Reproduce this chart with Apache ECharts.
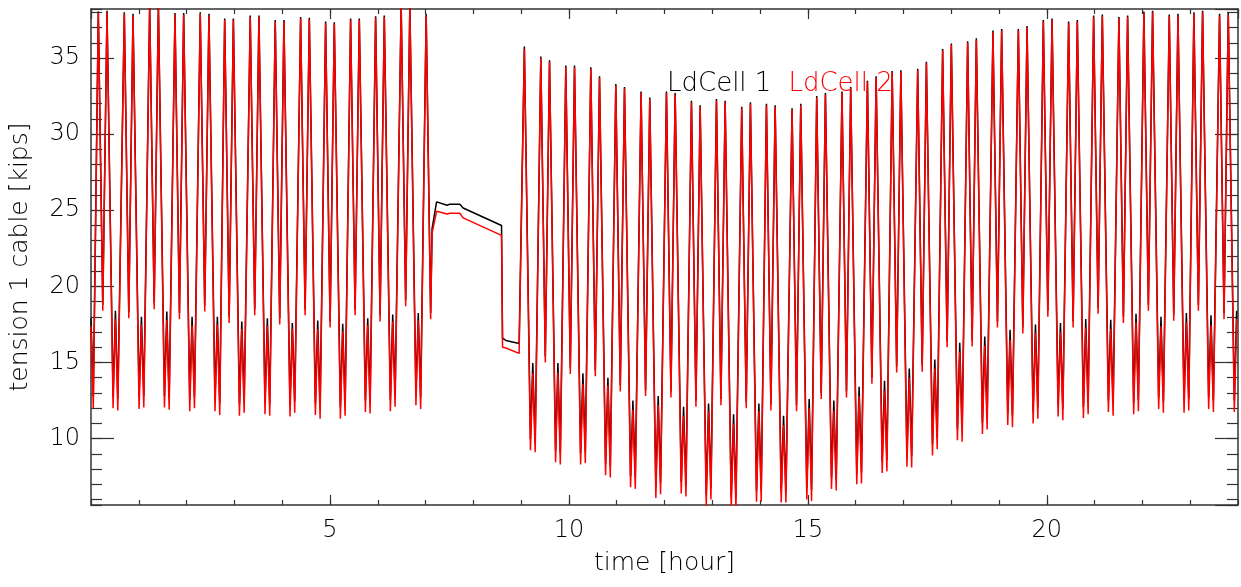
<!DOCTYPE html>
<html>
<head>
<meta charset="utf-8">
<script src="https://cdn.jsdelivr.net/npm/echarts@6/dist/echarts.min.js"></script>
<style>
html,body{margin:0;padding:0;background:#fff;}
#chart{width:1241px;height:587px;}
</style>
</head>
<body>
<div id="chart"></div>
<script>
// ---- data ----
const seriesNames = ['LdCell 1', 'LdCell 2'];
// cycle = peak1, dip, peak2, trough1, bump, trough2 ; time of peak1 (hours)
const cycleStart = [0.153, 0.697, 1.228, 1.757, 2.286, 2.797, 3.332, 3.855, 4.386, 4.909, 5.432, 5.955, 6.490, 7.013,
  8.886, 9.412, 9.935, 10.458, 10.981, 11.510, 12.041, 12.564, 13.087, 13.616, 14.133, 14.669, 15.185, 15.714,
  16.246, 16.764, 17.298, 17.820, 18.343, 18.873, 19.404, 19.927, 20.456, 20.979, 21.508, 22.031, 22.562, 23.077, 23.614];
// offsets (hours after peak1) of peak1, dip, peak2, trough1, bump, trough2
const cycleOffset = [0, 0.094, 0.182, 0.309, 0.358, 0.408];

// LdCell 1 (black)
const peak1Black = [38.05, 38.0, 38.5, 37.96, 38.0, 37.6, 37.8, 37.5, 37.7, 37.4, 37.6, 37.75, 38.5, 37.9,
  null, 35.1, 34.5, 34.4, 33.3, 32.8, 32.8, 32.2, 32.3, 31.8, 32.0, 31.7, 32.5, 32.8, 33.5, 34.15, 34.3, 35.6, 36.1, 36.8, 36.9, 37.5, 37.4, 37.8, 37.7, 38.05, 37.85, 38.0, 37.9];
const dipBlack = [18.8, 18.3, 18.9, 18.25, 18.75, 18.0, 18.5, 17.9, 18.5, 17.7, 18.5, 18.1, 19.1, 18.25,
  null, 15.4, 14.65, 14.5, 13.5, 13.2, 13.1, 12.5, 12.6, 12.4, 12.25, 12.2, 13.0, 13.1, 14.0, 14.75, 14.8, 16.4, 16.45, 17.7, 17.3, 18.4, 17.7, 18.6, 18.0, 18.8, 18.15, 18.8, 18.25];
const peak2Black = [38.1, 37.9, 38.5, 37.96, 37.9, 37.6, 37.8, 37.5, 37.65, 37.35, 37.6, 37.8, 38.5, null,
  35.75, 34.85, 34.5, 33.8, 33.1, 32.4, 32.7, 31.9, 32.2, 32.1, 31.9, 32.0, 32.7, 33.1, 33.8, 34.2, 34.75, 35.95, 36.3, 36.9, 37.1, 37.6, 37.5, 37.85, 37.8, 38.1, 37.9, 38.1, 37.95];
const trough1Black = [12.75, 12.7, 12.8, 12.55, 12.55, 12.25, 12.35, 12.2, 12.3, 12.05, 12.5, 12.55, 12.95, null,
  9.98, 9.2, 9.05, 8.35, 7.55, 6.85, 7.15, 6.3, 6.15, 6.6, 6.55, 6.75, 7.45, 7.75, 8.5, 8.9, 9.65, 10.65, 11.05, 11.65, 11.75, 12.2, 12.1, 12.5, 12.35, 12.7, 12.45, 12.7, 12.5];
const bumpBlack = [18.4, 18.0, 18.35, 18.0, 18.0, 17.7, 17.9, 17.6, 17.75, 17.55, 17.9, 18.15, 18.25, null,
  14.97, 14.97, 14.3, 14.0, 12.5, 12.8, 12.1, 12.3, 11.6, 12.3, 11.5, 12.6, 12.5, 13.4, 13.8, 14.6, 15.2, 16.3, 16.7, 17.15, 17.5, 17.6, 17.85, 17.8, 18.2, 18.0, 18.25, 18.1, 18.4];
const trough2Black = [12.6, 12.8, 12.65, 12.75, 12.3, 12.45, 12.25, 12.45, 12.05, 12.25, 12.4, 12.85, 12.7, null,
  9.85, 9.05, 9.15, 8.2, 7.45, 7.1, 6.95, 6.75, 6.15, 6.6, 6.55, 6.65, 7.35, 7.8, 8.6, 8.85, 10.05, 10.55, 11.35, 11.5, 12.05, 11.95, 12.35, 12.25, 12.55, 12.45, 12.6, 12.5, null];

// LdCell 2 (red)
const peak1Red = [37.95, 37.9, 38.4, 37.86, 37.9, 37.5, 37.7, 37.4, 37.6, 37.3, 37.5, 37.65, 38.4, 37.8,
  null, 35.0, 34.4, 34.3, 33.2, 32.7, 32.7, 32.1, 32.2, 31.7, 31.9, 31.6, 32.4, 32.7, 33.4, 34.05, 34.2, 35.5, 36.0, 36.7, 36.8, 37.4, 37.3, 37.7, 37.6, 37.95, 37.75, 37.9, 37.8];
const dipRed = [18.4, 17.9, 18.5, 17.85, 18.35, 17.6, 18.1, 17.5, 18.1, 17.3, 18.1, 17.7, 18.7, 17.85,
  null, 15.0, 14.25, 14.1, 13.1, 12.8, 12.7, 12.1, 12.2, 12.0, 11.85, 11.8, 12.6, 12.7, 13.6, 14.35, 14.4, 16.0, 16.05, 17.3, 16.9, 18.0, 17.3, 18.2, 17.6, 18.4, 17.75, 18.4, 17.85];
const peak2Red = [38.0, 37.8, 38.4, 37.86, 37.8, 37.5, 37.7, 37.4, 37.55, 37.25, 37.5, 37.7, 38.4, null,
  35.6, 34.75, 34.4, 33.7, 33.0, 32.3, 32.6, 31.8, 32.1, 32.0, 31.8, 31.9, 32.6, 33.0, 33.7, 34.1, 34.65, 35.85, 36.2, 36.8, 37.0, 37.5, 37.4, 37.75, 37.7, 38.0, 37.8, 38.0, 37.85];
const trough1Red = [12.0, 11.95, 12.05, 11.8, 11.8, 11.5, 11.6, 11.45, 11.55, 11.3, 11.75, 11.8, 12.2, null,
  9.23, 8.45, 8.3, 7.6, 6.8, 6.1, 6.4, 5.55, 5.4, 5.85, 5.8, 6.0, 6.7, 7.0, 7.75, 8.15, 8.9, 9.9, 10.3, 10.9, 11.0, 11.45, 11.35, 11.75, 11.6, 11.95, 11.7, 11.95, 11.75];
const bumpRed = [17.85, 17.5, 17.8, 17.45, 17.5, 17.2, 17.4, 17.2, 17.2, 17.05, 17.45, 17.7, 17.75, null,
  14.3, 14.35, 13.6, 13.5, 11.9, 12.2, 11.5, 11.8, 11.0, 11.8, 10.9, 12.0, 11.85, 12.8, 13.15, 14.0, 14.6, 15.7, 16.1, 16.5, 16.95, 17.0, 17.3, 17.2, 17.65, 17.4, 17.65, 17.45, 17.85];
const trough2Red = [11.85, 12.05, 11.9, 12.0, 11.55, 11.7, 11.5, 11.7, 11.3, 11.5, 11.65, 12.1, 11.95, null,
  9.1, 8.3, 8.4, 7.45, 6.7, 6.35, 6.2, 6.0, 5.4, 5.85, 5.8, 5.9, 6.6, 7.05, 7.85, 8.1, 9.3, 9.8, 10.6, 10.75, 11.3, 11.2, 11.6, 11.5, 11.8, 11.7, 11.85, 11.75, null];

// start of record and the quiet stretch (7.1 h - 9 h)
const leadT = [0, 0.048];
const leadBlack = [17.9, 12.75];
const leadRed = [17.4, 12.0];
const plateauT = [7.137, 7.231, 7.452, 7.509, 7.718, 7.787, 8.590, 8.611, 8.680, 8.958];
const plateauBlack = [23.8, 25.55, 25.33, 25.4, 25.4, 25.15, 24.0, 16.6, 16.45, 16.25];
const plateauRed = [23.5, 24.93, 24.76, 24.8, 24.8, 24.5, 23.35, 16.0, 15.95, 15.6];

const xMin = 0, xMax = 24, yMin = 5.64, yMax = 38.22;

function buildSeries(lead, feats, plateau) {
  const pts = [];
  leadT.forEach((t, i) => pts.push([t, lead[i]]));
  cycleStart.forEach((t0, c) => {
    feats.forEach((arr, k) => {
      if (arr[c] != null) pts.push([+(t0 + cycleOffset[k]).toFixed(3), arr[c]]);
    });
  });
  plateauT.forEach((t, i) => pts.push([t, plateau[i]]));
  pts.sort((a, b) => a[0] - b[0]);
  return pts;
}
const blackData = buildSeries(leadBlack, [peak1Black, dipBlack, peak2Black, trough1Black, bumpBlack, trough2Black], plateauBlack);
const redData = buildSeries(leadRed, [peak1Red, dipRed, peak2Red, trough1Red, bumpRed, trough2Red], plateauRed);

// ---- chart ----
const FONT = 'DejaVu Sans';
const FW = 200;
const axisCol = '#333';
const chart = echarts.init(document.getElementById('chart'), null, {renderer: 'canvas'});

function xAx(pos, major, showLine) {
  return {
    type: 'value', min: xMin, max: xMax, position: pos,
    interval: major ? 5 : 1,
    axisLine: {show: showLine, onZero: false, lineStyle: {color: axisCol, width: 1.5}},
    axisTick: {show: true, inside: true, length: major ? 10 : 5, lineStyle: {color: axisCol, width: 1.2}},
    axisLabel: {show: false},
    splitLine: {show: false}
  };
}
function yAx(pos, major, showLine) {
  return {
    type: 'value', min: yMin, max: yMax, position: pos,
    minInterval: major ? 5 : 1, maxInterval: major ? 5 : 1,
    axisLine: {show: showLine, onZero: false, lineStyle: {color: axisCol, width: 1.5}},
    axisTick: {show: true, inside: true, length: major ? 23 : 11, lineStyle: {color: axisCol, width: 1.2}},
    axisLabel: {show: false},
    splitLine: {show: false}
  };
}

const xMain = xAx('bottom', true, true);
xMain.axisLabel = {show: true, showMinLabel: false, showMaxLabel: false, margin: 14,
  fontFamily: FONT, fontWeight: FW, fontSize: 24, color: '#000'};
xMain.name = 'time [hour]';
xMain.nameLocation = 'middle';
xMain.nameGap = 46;
xMain.nameTextStyle = {fontFamily: FONT, fontWeight: FW, fontSize: 25, color: '#000'};

const yMain = yAx('left', true, true);
yMain.axisLabel = {show: true, showMinLabel: false, showMaxLabel: false, margin: 11,
  fontFamily: FONT, fontWeight: FW, fontSize: 24, color: '#000'};
yMain.name = 'tension 1 cable [kips]';
yMain.nameLocation = 'middle';
yMain.nameGap = 58;
yMain.nameTextStyle = {fontFamily: FONT, fontWeight: FW, fontSize: 25, color: '#000'};

chart.setOption({
  animation: false,
  backgroundColor: '#fff',
  grid: {left: 91, right: 3, top: 9, bottom: 82, containLabel: false},
  legend: {
    left: 657, top: 66, itemWidth: 0, itemHeight: 0, itemGap: 12, icon: 'rect',
    selectedMode: false,
    textStyle: {fontFamily: FONT, fontWeight: FW, fontSize: 26},
    data: [
      {name: seriesNames[0], textStyle: {color: '#000'}},
      {name: seriesNames[1], textStyle: {color: '#ff0000'}}
    ]
  },
  xAxis: [xMain, xAx('bottom', false, false), xAx('top', true, true), xAx('top', false, false)],
  yAxis: [yMain, yAx('left', false, false), yAx('right', true, true), yAx('right', false, false)],
  series: [
    {name: seriesNames[0], type: 'line', xAxisIndex: 0, yAxisIndex: 0, data: blackData,
      showSymbol: false, symbol: 'none', lineStyle: {color: '#000', width: 1.5}, itemStyle: {color: '#000'}, clip: true},
    {name: seriesNames[1], type: 'line', xAxisIndex: 0, yAxisIndex: 0, data: redData,
      showSymbol: false, symbol: 'none', lineStyle: {color: '#ff0000', width: 1.5}, itemStyle: {color: '#ff0000'}, clip: true}
  ]
});
</script>
</body>
</html>
